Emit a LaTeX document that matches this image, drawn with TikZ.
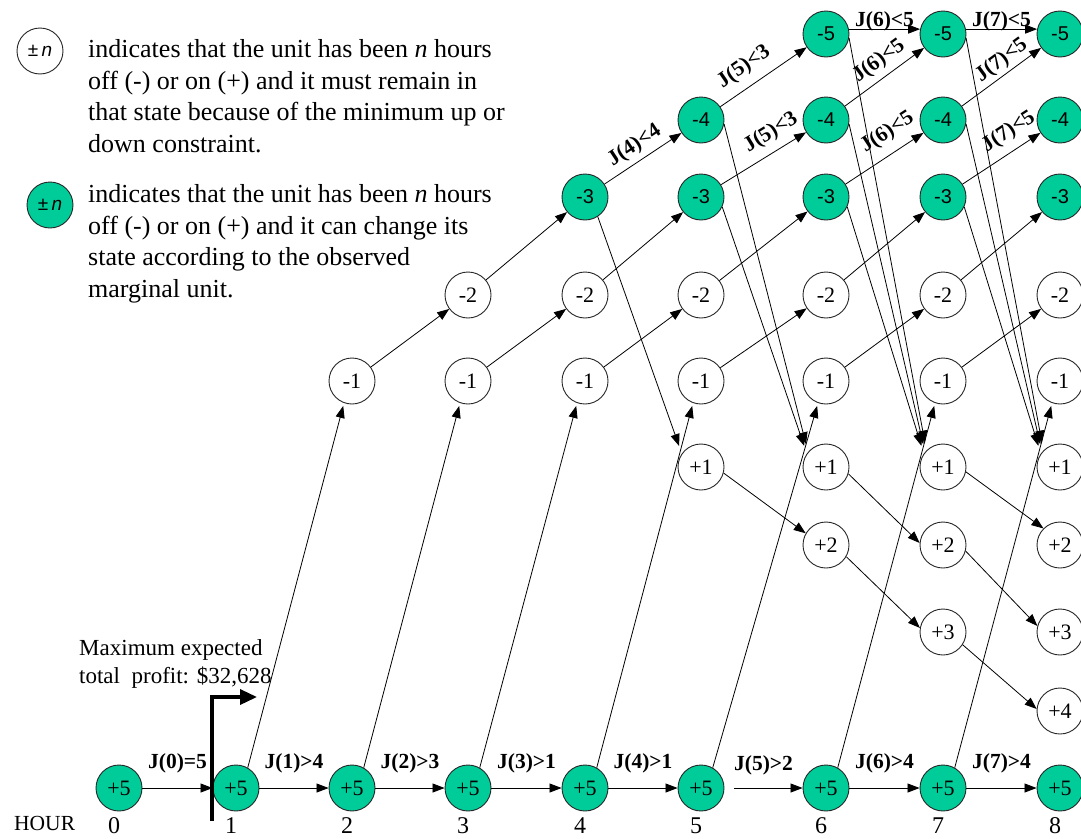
\documentclass[tikz,border=0pt]{standalone}
\usepackage{fontspec}
\setmainfont{Liberation Serif}
\newfontfamily\arialf{Liberation Sans}
\usetikzlibrary{arrows.meta}
\definecolor{nodegreen}{HTML}{00CC99}
\begin{document}
\begin{tikzpicture}[x=1pt,y=-1pt,
  stnode/.style={circle, draw=black!85, line width=0.9pt, minimum size=46pt, inner sep=0pt, font=\fontsize{22}{22}\selectfont},
  onnode/.style={stnode, fill=nodegreen},
  offnode/.style={stnode, fill=white},
  sansnode/.style={onnode, font=\arialf\fontsize{20}{20}\selectfont},
  arr/.style={-{Triangle[length=12pt,width=9pt]}, line width=0.8pt, black},
  lab/.style={font=\bfseries\fontsize{21.5}{21.5}\selectfont, inner sep=1pt},
  legtext/.style={anchor=base west, inner sep=0pt, font=\fontsize{26}{26}\selectfont},
  smalltext/.style={anchor=base west, inner sep=0pt, font=\fontsize{23}{23}\selectfont},
]
\useasboundingbox (0,0) rectangle (1081,838);

% bottom row and hour labels
\foreach \i/\x in {0/119,1/236,2/352,3/468,4/585,5/701,6/826,7/943,8/1060} {
  \node[onnode] (p5n\i) at (\x,788) {+5};
  \node[anchor=base, inner sep=0pt, font=\fontsize{24}{24}\selectfont] (hr\i) at (\x-5,833) {\i};
}
\node[anchor=base west, inner sep=0pt, font=\fontsize{21.5}{21.5}\selectfont] (hourlab) at (14,830) {HOUR};

% off states
\foreach \i/\x in {2/352,3/468,4/585,5/701,6/826,7/943,8/1060}
  \node[offnode] (m1n\i) at (\x,381) {-1};
\foreach \i/\x in {3/468,4/585,5/701,6/826,7/943,8/1060}
  \node[offnode] (m2n\i) at (\x,295) {-2};
\foreach \i/\x in {4/585,5/701,6/826,7/943,8/1060}
  \node[sansnode] (m3n\i) at (\x,197) {-3};
\foreach \i/\x in {5/701,6/826,7/943,8/1060}
  \node[sansnode] (m4n\i) at (\x,120) {-4};
\foreach \i/\x in {6/826,7/943,8/1060}
  \node[sansnode] (m5n\i) at (\x,34) {-5};

% on states
\foreach \i/\x in {5/701,6/826,7/943,8/1060}
  \node[offnode] (p1n\i) at (\x,467) {+1};
\foreach \i/\x in {6/826,7/943,8/1060}
  \node[offnode] (p2n\i) at (\x,545) {+2};
\foreach \i/\x in {7/943,8/1060}
  \node[offnode] (p3n\i) at (\x,632) {+3};
\node[offnode] (p4n8) at (1060,711) {+4};

% horizontal +5 edges
\foreach \i/\j/\t in {0/1/{J(0)=5},1/2/{J(1)>4},2/3/{J(2)>3},3/4/{J(3)>1},4/5/{J(4)>1},6/7/{J(6)>4},7/8/{J(7)>4}}
  \draw[arr] (p5n\i) -- (p5n\j) node[lab, midway, above=14pt] {\t};
\draw[arr, shorten <=10pt] (p5n5) -- (p5n6) node[lab, midway, above=12pt] {J(5)>2};

% +5 -> -1
\foreach \i/\j in {1/2,2/3,3/4,4/5,5/6,6/7,7/8}
  \draw[arr, shorten >=3pt] (p5n\i.60) -- (m1n\j.250);

% diagonal off-state edges
\foreach \i/\j in {2/3,3/4,4/5,5/6,6/7,7/8}
  \draw[arr] (m1n\i) -- (m2n\j);
\foreach \i/\j in {3/4,4/5,5/6,6/7,7/8}
  \draw[arr] (m2n\i) -- (m3n\j);
\draw[arr] (m3n4) -- (m4n5) node[lab, sloped, pos=.5, above=4pt] {J(4)<4};
\draw[arr] (m3n5) -- (m4n6) node[lab, sloped, pos=.7, above=7pt] {J(5)<3};
\draw[arr] (m3n6) -- (m4n7) node[lab, sloped, pos=.68, above=9pt] {J(6)<5};
\draw[arr] (m3n7) -- (m4n8) node[lab, sloped, pos=.72, above=7pt] {J(7)<5};
\draw[arr] (m4n5) -- (m5n6) node[lab, sloped, pos=.4, above=8pt] {J(5)<3};
\draw[arr] (m4n6) -- (m5n7) node[lab, sloped, pos=.55, above=5pt] {J(6)<5};
\draw[arr] (m4n7) -- (m5n8) node[lab, sloped, pos=.6, above=2pt] {J(7)<5};
\draw[arr] (m5n6.12) -- (m5n7.168) node[lab, midway, above=-3pt] {J(6)<5};
\draw[arr] (m5n7.12) -- (m5n8.168) node[lab, midway, above=-3pt] {J(7)<5};

% off -> on (turn on)
\draw[arr, shorten >=8pt] (m3n4.303) -- (p1n5.145);
\foreach \i/\j in {5/6,6/7,7/8}
  \draw[arr, shorten >=8pt] (m3n\i.335) -- (p1n\j.145);
\foreach \i/\j in {5/6,6/7,7/8}
  \draw[arr, shorten >=8pt] (m4n\i.350) -- (p1n\j.140);
\foreach \i/\j in {6/7,7/8}
  \draw[arr, shorten >=8pt] (m5n\i.350) -- (p1n\j.135);

% on-state chain
\draw[arr] (p1n5.345) -- (p2n6.150);
\draw[arr] (p1n6.343) -- (p2n7.175);
\draw[arr] (p1n7.348) -- (p2n8.135);
\draw[arr] (p2n6.330) -- (p3n7.170);
\draw[arr] (p2n7.345) -- (p3n8.165);
\draw[arr] (p3n7.327) -- (p4n8.175);

% legend
\node[offnode, font=\arialf\fontsize{19}{19}\selectfont] (leg1) at (40,51) {±\,\textit{n}};
\node[onnode, font=\arialf\fontsize{19}{19}\selectfont] (leg2) at (50,205) {±\,\textit{n}};
\node[legtext] (la1) at (88,57) {indicates that the unit has been \textit{n} hours};
\node[legtext] (la2) at (88,89) {off (-) or on (+) and it must remain in};
\node[legtext] (la3) at (88,120) {that state because of the minimum up or};
\node[legtext] (la4) at (88,152) {down constraint.};
\node[legtext] (lb1) at (88,202) {indicates that the unit has been \textit{n} hours};
\node[legtext] (lb2) at (88,234) {off (-) or on (+) and it can change its};
\node[legtext] (lb3) at (88,265) {state according to the observed};
\node[legtext] (lb4) at (88,297) {marginal unit.};

% maximum profit
\node[smalltext] (mx1) at (79,655) {Maximum expected};
\node[smalltext] (mx2) at (79,683) {total\ \ profit: \$32,628};
\coordinate (barbot) at (212,821);
\coordinate (barcorner) at (212,697);
\coordinate (bartip) at (257,697);
\draw[line width=3.5pt, -{Triangle[length=17pt,width=15pt]}] (barbot) -- (barcorner) -- (bartip);
\end{tikzpicture}
\end{document}
